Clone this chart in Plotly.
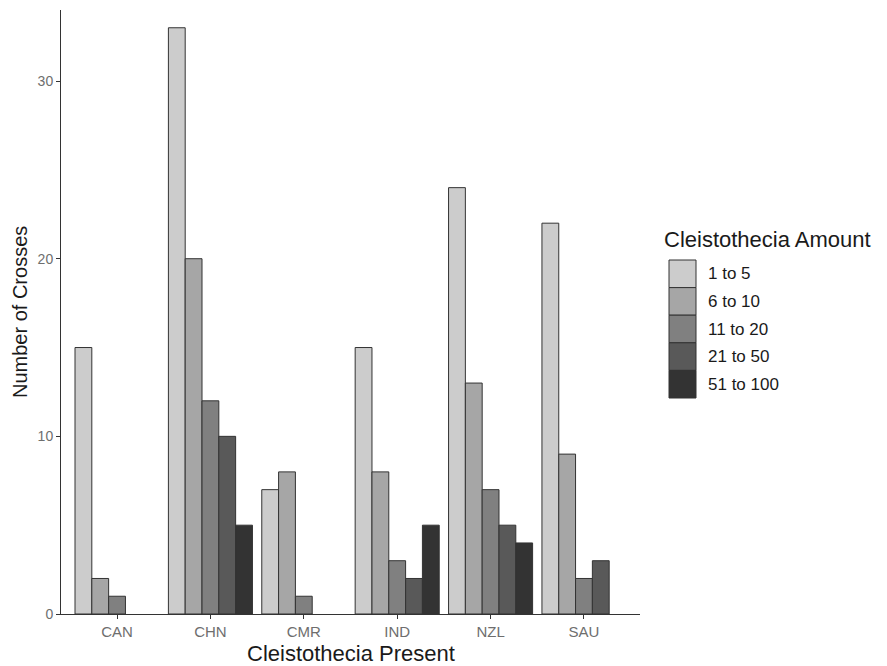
import plotly.graph_objects as go

countries = ["CAN", "CHN", "CMR", "IND", "NZL", "SAU"]
amounts = ["1 to 5", "6 to 10", "11 to 20", "21 to 50", "51 to 100"]
values = {
    "1 to 5":    [15, 33, 7, 15, 24, 22],
    "6 to 10":   [2, 20, 8, 8, 13, 9],
    "11 to 20":  [1, 12, 1, 3, 7, 2],
    "21 to 50":  [None, 10, None, 2, 5, 3],
    "51 to 100": [None, 5, None, 5, 4, None],
}
fills = ["#CCCCCC", "#A6A6A6", "#808080", "#595959", "#333333"]
y_ticks = [0, 10, 20, 30]

FONT = "Liberation Sans, Arial, sans-serif"

fig = go.Figure()
for amt, col in zip(amounts, fills):
    fig.add_trace(go.Bar(
        x=countries, y=values[amt], name=amt, showlegend=False,
        marker=dict(color=col, line=dict(color="#333333", width=1)),
    ))

# Custom legend (stacked keys, ggplot style) in paper coordinates
PLOT_L, PLOT_R, PLOT_T, PLOT_B = 61, 640, 10, 614
pw, ph = PLOT_R - PLOT_L, PLOT_B - PLOT_T
def px_x(x):
    return (x - PLOT_L) / pw
def px_y(y):
    return (PLOT_B - y) / ph

key_x0, key_x1 = 669, 696
key_top, key_h = 260, 27.6
shapes = []
annotations = [
    dict(
        text="Cleistothecia Amount", xref="paper", yref="paper",
        x=px_x(662), y=px_y(239), xanchor="left", yanchor="middle",
        showarrow=False, font=dict(size=22, color="#1a1a1a", family=FONT),
    ),
    dict(
        text="Cleistothecia Present", xref="paper", yref="paper",
        x=0.5, y=px_y(653), xanchor="center", yanchor="middle",
        showarrow=False, font=dict(size=22, color="#1a1a1a", family=FONT),
    ),
    dict(
        text="Number of Crosses", xref="paper", yref="paper",
        x=px_x(20), y=0.5, xanchor="center", yanchor="middle", textangle=-90,
        showarrow=False, font=dict(size=20, color="#1a1a1a", family=FONT),
    ),
]
for i, (amt, col) in enumerate(zip(amounts, fills)):
    y0 = key_top + i * key_h
    y1 = y0 + key_h
    shapes.append(dict(
        type="rect", xref="paper", yref="paper",
        x0=px_x(key_x0), x1=px_x(key_x1), y0=px_y(y1), y1=px_y(y0),
        fillcolor=col, line=dict(color="#333333", width=1),
    ))
    annotations.append(dict(
        text=amt, xref="paper", yref="paper",
        x=px_x(706), y=px_y((y0 + y1) / 2), xanchor="left", yanchor="middle",
        showarrow=False, font=dict(size=17, color="#1a1a1a", family=FONT),
    ))

fig.update_layout(
    width=887, height=666,
    barmode="group", bargap=0.1, bargroupgap=0,
    plot_bgcolor="white", paper_bgcolor="white",
    margin=dict(l=PLOT_L, r=887 - PLOT_R, t=PLOT_T, b=666 - PLOT_B),
    font=dict(family=FONT),
    showlegend=False,
    shapes=shapes, annotations=annotations,
    xaxis=dict(
        range=[-0.6, 5.6], showline=True, linecolor="#333333", linewidth=1,
        ticks="outside", ticklen=4, tickcolor="#333333",
        tickfont=dict(size=15, color="#6e6e6e"),
        showgrid=False, zeroline=False, automargin=False,
    ),
    yaxis=dict(
        range=[0, 34], showline=True, linecolor="#333333", linewidth=1,
        ticks="outside", ticklen=4, tickcolor="#333333",
        tickvals=y_ticks, tickfont=dict(size=14, color="#6e6e6e"),
        showgrid=False, zeroline=False, automargin=False,
    ),
)

fig.write_html("out.html")
